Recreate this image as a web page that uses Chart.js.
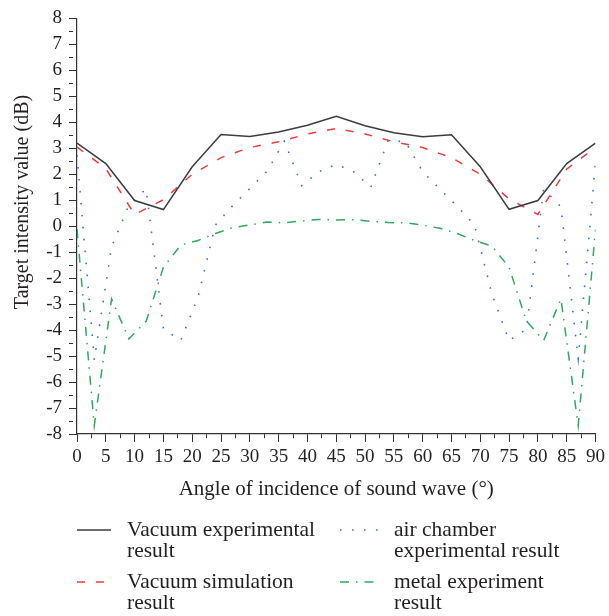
<!DOCTYPE html>
<html>
<head>
<meta charset="utf-8">
<script src="https://cdn.jsdelivr.net/npm/chart.js@4.4.1/dist/chart.umd.min.js"></script>
<style>
  html, body { margin: 0; padding: 0; background: #fff; }
  #wrap { width: 609px; height: 616px; }
</style>
</head>
<body>
<div id="wrap"><canvas id="chart"></canvas></div>
<script>
// angles (deg)
const anglesBy5 = [0, 5, 10, 15, 20, 25, 30, 35, 40, 45, 50, 55, 60, 65, 70, 75, 80, 85, 90];
const anglesBy3 = [0, 3, 6, 9, 12, 15, 18, 21, 24, 27, 30, 33, 36, 39, 42, 45, 48, 51, 54, 57, 60, 63, 66, 69, 72, 75, 78, 81, 84, 87, 90];

// target intensity (dB)
const vacuumExperimental = [3.2, 2.41, 0.99, 0.64, 2.29, 3.53, 3.45, 3.63, 3.89, 4.23, 3.87, 3.6, 3.44, 3.52, 2.29, 0.65, 0.99, 2.41, 3.2];
const vacuumSimulation = [3.05, 2.22, 0.45, 1.02, 2.0, 2.64, 3.03, 3.25, 3.55, 3.76, 3.55, 3.25, 3.03, 2.64, 2.0, 1.05, 0.45, 2.2, 3.03];
const airChamber = [2.74, -5.15, -0.79, 0.8, 1.44, -3.95, -4.4, -2.74, 0.04, 0.79, 1.45, 2.12, 3.27, 1.56, 2.1, 2.38, 2.1, 1.5, 3.3, 3.25, 2.1, 1.43, 0.76, 0.05, -2.6, -4.4, -3.97, 1.43, 0.75, -5.1, 2.46];
const metalExperiment = [-0.12, -7.68, -2.8, -4.34, -3.66, -1.58, -0.73, -0.55, -0.28, -0.06, 0.05, 0.16, 0.13, 0.2, 0.26, 0.24, 0.25, 0.19, 0.14, 0.13, 0.04, -0.08, -0.28, -0.55, -0.76, -1.58, -3.65, -4.4, -2.8, -7.68, -0.13];

const legendLines = [
  ["Vacuum experimental", "result"],
  ["Vacuum simulation", "result"],
  ["air chamber", "experimental result"],
  ["metal experiment", "result"]
];
const yTitle = "Target intensity value (dB)";

const serif = "'Liberation Serif', 'DejaVu Serif', serif";
const textColor = "#231f20";
const axisColor = "#333";

const toPoints = (xs, ys) => xs.map((x, i) => ({ x: x, y: ys[i] }));

// minor ticks: short dash on the tick line
const tickDash = (ctx, major) =>
  ctx.tick && ctx.tick.value % major !== 0 ? [4, 20] : [];

// legend below the plot + y axis title (sits a bit above the axis centre)
const sidePlugin = {
  id: "sideText",
  afterDraw(chart) {
    const ctx = chart.ctx;
    const cols = [{ x0: 77, x1: 111, tx: 127 }, { x0: 340, x1: 378, tx: 394 }];
    const rows = [530, 582];
    ctx.save();
    chart.data.datasets.forEach((ds, i) => {
      const col = cols[i < 2 ? 0 : 1];
      const y = rows[i % 2];
      ctx.beginPath();
      ctx.setLineDash(ds.borderDash || []);
      ctx.strokeStyle = ds.borderColor;
      ctx.lineWidth = ds.borderWidth;
      ctx.moveTo(col.x0, y);
      ctx.lineTo(col.x1, y);
      ctx.stroke();
      ctx.setLineDash([]);
      ctx.fillStyle = textColor;
      ctx.font = "21.5px " + serif;
      ctx.textBaseline = "middle";
      ctx.textAlign = "left";
      legendLines[i].forEach((line, k) => ctx.fillText(line, col.tx, y + k * 21.5));
    });

    ctx.translate(23, 202);
    ctx.rotate(-Math.PI / 2);
    ctx.font = "20px " + serif;
    ctx.textAlign = "center";
    ctx.textBaseline = "middle";
    ctx.fillStyle = textColor;
    ctx.fillText(yTitle, 0, 0);
    ctx.restore();
  }
};

new Chart(document.getElementById("chart"), {
  type: "line",
  data: {
    datasets: [
      {
        label: "Vacuum experimental result",
        data: toPoints(anglesBy5, vacuumExperimental),
        borderColor: "#3c3c3c",
        borderWidth: 1.5,
        pointRadius: 0
      },
      {
        label: "Vacuum simulation result",
        data: toPoints(anglesBy5, vacuumSimulation),
        borderColor: "#ee3b40",
        borderWidth: 1.5,
        borderDash: [8, 11],
        pointRadius: 0
      },
      {
        label: "air chamber experimental result",
        data: toPoints(anglesBy3, airChamber),
        borderColor: "#3b6fd2",
        borderWidth: 1.6,
        borderDash: [1.6, 10.4],
        pointRadius: 0
      },
      {
        label: "metal experiment result",
        data: toPoints(anglesBy3, metalExperiment),
        borderColor: "#2fa862",
        borderWidth: 1.5,
        borderDash: [9, 7, 1.5, 7],
        pointRadius: 0
      }
    ]
  },
  options: {
    responsive: true,
    maintainAspectRatio: false,
    animation: false,
    layout: { padding: { top: 16, right: 11, left: 0, bottom: 0 } },
    plugins: {
      legend: { display: false },
      tooltip: { enabled: false }
    },
    scales: {
      x: {
        type: "linear",
        min: 0,
        max: 90,
        afterFit: (scale) => { scale.height = 182; },
        border: { display: true, color: axisColor, width: 1.2 },
        grid: {
          drawOnChartArea: false,
          drawTicks: true,
          tickLength: 8,
          tickColor: axisColor,
          tickWidth: 1,
          tickBorderDash: (ctx) => tickDash(ctx, 5)
        },
        ticks: {
          stepSize: 2.5,
          autoSkip: false,
          maxRotation: 0,
          padding: 4,
          color: textColor,
          font: { family: serif, size: 19 },
          callback: (v) => (v % 5 === 0 ? v : "")
        },
        title: {
          display: true,
          text: "Angle of incidence of sound wave (°)",
          color: textColor,
          font: { family: serif, size: 21 },
          padding: { top: 0, bottom: 114 }
        }
      },
      y: {
        min: -8,
        max: 8,
        afterFit: (scale) => { scale.width = 77; },
        border: { display: true, color: axisColor, width: 1.2 },
        grid: {
          drawOnChartArea: false,
          drawTicks: true,
          tickLength: 8,
          tickColor: axisColor,
          tickWidth: 1,
          tickBorderDash: (ctx) => tickDash(ctx, 1)
        },
        ticks: {
          stepSize: 0.5,
          autoSkip: false,
          padding: 7,
          color: textColor,
          font: { family: serif, size: 19 },
          callback: (v) => (Number.isInteger(v) ? v : "")
        }
      }
    }
  },
  plugins: [sidePlugin]
});
</script>
</body>
</html>
